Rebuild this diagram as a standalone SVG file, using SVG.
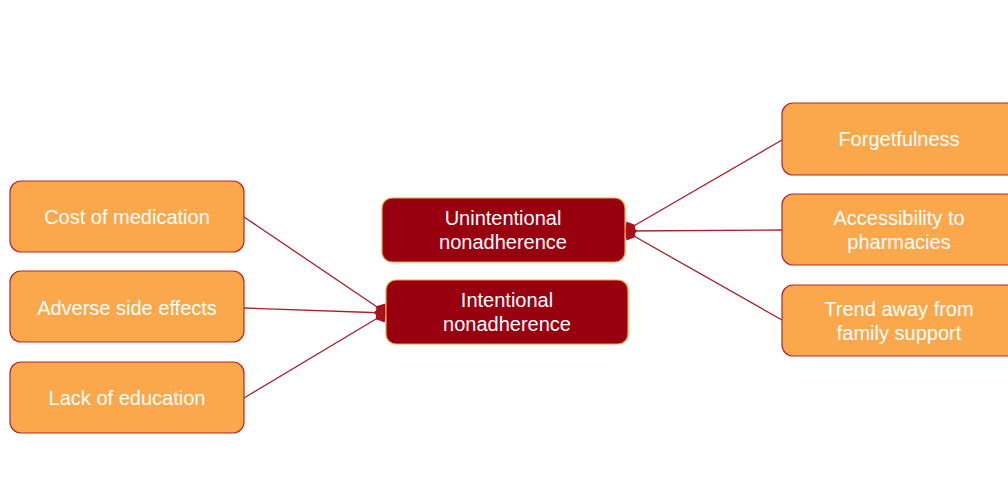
<svg xmlns="http://www.w3.org/2000/svg" width="1008" height="491" viewBox="0 0 1008 491">
<style>
.src rect{fill:#FBA84C;stroke:#B2282C;stroke-width:1.2}
.tgt rect{fill:#98000F;stroke:#F5A04A;stroke-width:1.2}
text{font-family:"Liberation Sans",Arial,sans-serif;font-size:20px;fill:#ffffff;text-anchor:middle}
.conn line{stroke:#A8202A;stroke-width:1.3;marker-end:url(#dia)}
</style>
<defs>
<marker id="dia" markerUnits="userSpaceOnUse" markerWidth="16" markerHeight="20" viewBox="-14 -10 16 20" refX="0" refY="0" orient="auto">
<path d="M0,0 L-6,-7.5 L-12,0 L-6,7.5 Z" fill="#A8101C"/>
</marker>
</defs>
<rect width="1008" height="491" fill="#ffffff"/>
<g class="conn">
<line x1="244" y1="217" x2="386" y2="313"/>
<line x1="244" y1="308" x2="386" y2="313"/>
<line x1="244" y1="398" x2="386" y2="313"/>
<line x1="782" y1="140" x2="625" y2="231"/>
<line x1="782" y1="230" x2="625" y2="231"/>
<line x1="782" y1="320" x2="625" y2="231"/>
</g>
<g id="cost" class="src"><rect x="10" y="181" width="234" height="71" rx="11"/><text x="127" y="224">Cost of medication</text></g>
<g id="adverse" class="src"><rect x="10" y="271" width="234" height="71" rx="11"/><text x="127" y="315">Adverse side effects</text></g>
<g id="lack" class="src"><rect x="10" y="362" width="234" height="71" rx="11"/><text x="127" y="405">Lack of education</text></g>
<g id="unintentional" class="tgt"><rect x="382" y="198" width="243" height="64" rx="10"/><text x="503" y="225">Unintentional</text><text x="503" y="249">nonadherence</text></g>
<g id="intentional" class="tgt"><rect x="386" y="280" width="242" height="64" rx="10"/><text x="507" y="307">Intentional</text><text x="507" y="331">nonadherence</text></g>
<g id="forget" class="src"><rect x="782" y="103" width="236" height="72" rx="11"/><text x="899" y="146">Forgetfulness</text></g>
<g id="access" class="src"><rect x="782" y="194" width="236" height="71" rx="11"/><text x="899" y="225">Accessibility to</text><text x="899" y="249">pharmacies</text></g>
<g id="trend" class="src"><rect x="782" y="285" width="236" height="71" rx="11"/><text x="899" y="316">Trend away from</text><text x="899" y="340">family support</text></g>
</svg>
